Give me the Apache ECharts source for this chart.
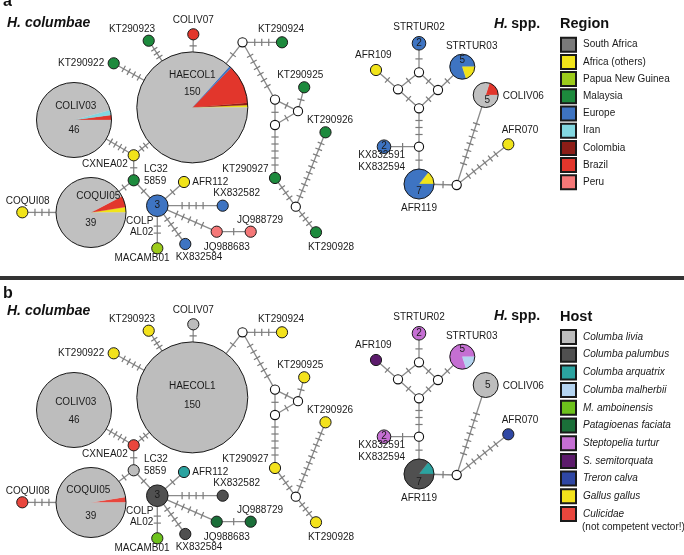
<!DOCTYPE html>
<html><head><meta charset="utf-8">
<script src="https://cdn.jsdelivr.net/npm/echarts@6/dist/echarts.min.js"></script>
<style>html,body{margin:0;padding:0;background:#fff}#c{width:684px;height:555px}</style>
</head><body><div id="c"></div>
<script>
// ---------------- DATA ----------------
const nodeNames = ['HAECOL1','COLIV03','COQUI05','COLIV07','KT290923','KT290922','CXNEA02','LC32\n5859','COLP\nAL02','AFR112',
  'KX832582','JQ988683','JQ988729','KX832584','MACAMB01','COQUI08','mv1','KT290924','mv2','mv3',
  'mv4','KT290925','KT290927','mv5','KT290928','KT290926','STRTUR02','STRTUR03','AFR109','mv6',
  'mv7','mv8','mv9','KX832591\nKX832594','mv10','AFR119','mv11','COLIV06','AFR070'];
// network layout (units of the diagram)
const nodeX = [192.3,74,91,193.3,148.7,113.7,133.7,133.7,157.3,184,
  222.7,216.7,250.7,185.3,157.3,22.3,242.5,282,275,298,
  275,304.2,275,295.8,316,325.5,419,462.3,376,419,
  398,438,419,384,419,419,456.7,485.7,508.3];
const nodeY = [107.4,120,212.5,34.3,40.7,63.3,155.3,180.3,205.7,182,
  205.7,231.7,231.7,244,248.3,212.3,42.3,42.3,99.6,111.2,
  125,87.3,178,206.7,232.3,132.3,43.3,66.7,70,72.3,
  89.3,90,108.3,146.7,146.7,184,185,95,144.3];
// composition (category, number of sequences) — region panel a
const regionMix = [
  [['Africa (others)',1],['Colombia',1],['Brazil',17],['Europe',1],['Other',130]],
  [['Brazil',1],['Iran',1],['Other',44]],
  [['Africa (others)',1],['Brazil',2],['Other',36]],
  [['Brazil',1]],[['Malaysia',1]],[['Malaysia',1]],[['Africa (others)',1]],[['Malaysia',1]],[['Europe',3]],[['Africa (others)',1]],
  [['Europe',1]],[['Peru',1]],[['Peru',1]],[['Europe',1]],[['Papua New Guinea',1]],[['Africa (others)',1]],[],[['Malaysia',1]],[],[],
  [],[['Malaysia',1]],[['Malaysia',1]],[],[['Malaysia',1]],[['Malaysia',1]],[['Europe',2]],[['Europe',4],['Africa (others)',1]],[['Africa (others)',1]],[],
  [],[],[],[['Europe',2]],[],[['Africa (others)',1],['Europe',6]],[],[['Brazil',1],['Other',4]],[['Africa (others)',1]]
];
// composition — host panel b
const hostMix = [
  [['Columba livia',150]],
  [['Columba livia',46]],
  [['Culicidae',1],['Columba livia',38]],
  [['Columba livia',1]],[['Gallus gallus',1]],[['Gallus gallus',1]],[['Culicidae',1]],[['Columba livia',1]],[['Columba palumbus',3]],[['Columba arquatrix',1]],
  [['Columba palumbus',1]],[['Patagioenas faciata',1]],[['Patagioenas faciata',1]],[['Columba palumbus',1]],[['M. amboinensis',1]],[['Culicidae',1]],[],[['Gallus gallus',1]],[],[],
  [],[['Gallus gallus',1]],[['Gallus gallus',1]],[],[['Gallus gallus',1]],[['Gallus gallus',1]],[['Steptopelia turtur',2]],[['Steptopelia turtur',4],['Columba malherbii',1]],[['S. semitorquata',1]],[],
  [],[],[],[['Steptopelia turtur',2]],[],[['Columba arquatrix',1],['Columba palumbus',6]],[],[['Columba livia',5]],[['Treron calva',1]]
];
// edges: from, to, number of mutational steps
const edgeFrom  = [3,4,5,0,16,16,18,19,19,18,20,22,23,23,0,1,6,7,7,8,8,8,11,8,8,2, 26,28,29,29,30,31,31,32,33,34,35,36,36];
const edgeTo    = [0,0,0,16,17,18,19,21,20,20,22,23,24,25,6,6,7,2,8,9,10,11,12,13,14,15, 29,30,30,31,32,32,27,34,34,35,36,37,38];
const edgeSteps = [1,3,4,1,3,6,1,1,1,1,5,3,3,10,2,4,1,1,1,1,4,5,1,4,2,3, 1,1,1,1,1,1,1,3,1,1,1,7,6];
const regionCategories = ['South Africa','Africa (others)','Papua New Guinea','Malaysia','Europe','Iran','Colombia','Brazil','Peru'];
const hostCategories = ['Columba livia','Columba palumbus','Columba arquatrix','Columba malherbii','M. amboinensis','Patagioenas faciata','Steptopelia turtur','S. semitorquata','Treron calva','Gallus gallus','Culicidae'];

// ---------------- STYLE ----------------
const FONT = '"Liberation Sans", Arial, Helvetica, sans-serif';
const colors = {
  'Other':'#c0c0c0','South Africa':'#7a7a7a','Africa (others)':'#f1e41a','Papua New Guinea':'#9ccb1b','Malaysia':'#1d8a3d',
  'Europe':'#3e74c2','Iran':'#83d7e0','Colombia':'#8d1d17','Brazil':'#e2362c','Peru':'#f57878',
  'Columba livia':'#bdbdbd','Columba palumbus':'#505050','Columba arquatrix':'#2ba3a0','Columba malherbii':'#b4d4f0',
  'M. amboinensis':'#6dc21c','Patagioenas faciata':'#1b6f39','Steptopelia turtur':'#c56fd3','S. semitorquata':'#5c1b6c',
  'Treron calva':'#2f47a4','Gallus gallus':'#f3e21c','Culicidae':'#e8463d'
};
const sizeStops = [[1,5.6],[2,6.8],[3,10.8],[5,12.5],[7,15],[39,35],[46,37.5],[150,55.5]];
function radiusOf(n){
  for (let k=0;k<sizeStops.length;k++){ if (n<=sizeStops[k][0]) {
    if (k===0) return sizeStops[0][1];
    const [n0,r0]=sizeStops[k-1],[n1,r1]=sizeStops[k];
    return r0+(r1-r0)*(n-n0)/(n1-n0);
  }}
  return sizeStops[sizeStops.length-1][1];
}
const MV_R = 4.6;
// outer label placement: [dx, dy, align]
const labelLayout = {
  'COLIV07':[0,-13.8,'center'],'KT290923':[-16.7,-11.6,'center'],'KT290922':[-9.5,0,'right'],'KT290924':[-1,-13,'center'],
  'KT290925':[-4,-12.3,'center'],'KT290926':[4.5,-12.3,'center'],'KT290927':[-6.5,-8.7,'right'],'KT290928':[15,15,'center'],
  'CXNEA02':[-6,8.7,'right'],'LC32\n5859':[10.3,-5.2,'left'],'AFR112':[8.3,0,'left'],'KX832582':[14,-12.4,'center'],
  'JQ988729':[9.3,-11.7,'center'],'JQ988683':[10,16,'center'],'KX832584':[13.7,13,'center'],'MACAMB01':[-15.3,10,'center'],
  'COLP\nAL02':[-4,21,'right'],'COQUI08':[5.4,-11.3,'center'],'STRTUR02':[0,-16,'center'],'STRTUR03':[9.4,-20,'center'],
  'AFR109':[-2.7,-15,'center'],'COLIV06':[17,1,'left'],'AFR070':[11.7,-13.6,'center'],'KX832591\nKX832594':[-2.3,14.2,'center'],
  'AFR119':[0,24.3,'center']
};
// inner labels: name offset / count offset per panel
const innerA = {'HAECOL1':{name:[0,-31.7],count:[0,-15.4]},'COLIV03':{name:[1.7,-14],count:[0,10.7]},'COQUI05':{name:[7.3,-15.8],count:[-0.3,10.8]},
  'STRTUR03':{count:[0,-6.7]},'AFR119':{count:[0,7.7]},'COLIV06':{count:[1.6,5.7]}};
const innerB = {'HAECOL1':{name:[0,-11],count:[0,8]},'COLIV03':{name:[1.7,-7.5],count:[0,10.5]},'COQUI05':{name:[-2.7,-12.5],count:[-0.3,13.5]},
  'STRTUR03':{count:[0,-7]},'AFR119':{count:[0,8.5]},'COLIV06':{count:[2,0]}};

function txt(x,y,s,align,extra){
  return Object.assign({type:'text',style:{x:x,y:y,text:s,align:align||'center',verticalAlign:'middle',fontSize:10,lineHeight:11.7,fontFamily:FONT,fill:'#1a1a1a'}},extra||{});
}

function makeNodeRenderer(mix, inner){
  return function(params, api){
    const i = api.value(2);
    const p = api.coord([api.value(0), api.value(1)]);
    const cx=p[0], cy=p[1];
    const parts = mix[i];
    const total = parts.reduce((s,q)=>s+q[1],0);
    const ch = [];
    const name = nodeNames[i];
    if (total===0){
      ch.push({type:'circle',shape:{cx,cy,r:MV_R},style:{fill:'#fff',stroke:'#111',lineWidth:1.1}});
      return {type:'group',children:ch};
    }
    const r = radiusOf(total);
    if (parts.length===1){
      ch.push({type:'circle',shape:{cx,cy,r},style:{fill:colors[parts[0][0]],stroke:'#1a1a1a',lineWidth:1}});
    } else {
      let a=0;
      parts.forEach(q=>{
        const b=a+q[1]/total*Math.PI*2;
        ch.push({type:'sector',shape:{cx,cy,r,r0:0,startAngle:-b,endAngle:-a,clockwise:true},style:{fill:colors[q[0]],stroke:colors[q[0]],lineWidth:0.3}});
        a=b;
      });
      ch.push({type:'circle',shape:{cx,cy,r},style:{fill:null,stroke:'#1a1a1a',lineWidth:1}});
    }
    const inn = inner[name]||{};
    if (inn.name) ch.push(txt(cx+inn.name[0],cy+inn.name[1],name,'center'));
    if (total>=2){ const o=inn.count||[0,0]; ch.push(txt(cx+o[0],cy+o[1],String(total),'center')); }
    const L = labelLayout[name];
    if (L) ch.push(txt(cx+L[0],cy+L[1],name,L[2]));
    return {type:'group',children:ch};
  };
}
function makeEdgeRenderer(mix){
  return function(params, api){
    const i=params.dataIndex;
    const a=edgeFrom[i], b=edgeTo[i], n=edgeSteps[i];
    const p=api.coord([nodeX[a],nodeY[a]]), q=api.coord([nodeX[b],nodeY[b]]);
    const ra = mix[a].length? radiusOf(mix[a].reduce((s,x)=>s+x[1],0)) : MV_R;
    const rb = mix[b].length? radiusOf(mix[b].reduce((s,x)=>s+x[1],0)) : MV_R;
    const dx=q[0]-p[0], dy=q[1]-p[1], Ltot=Math.hypot(dx,dy);
    const ux=dx/Ltot, uy=dy/Ltot, nx=-uy, ny=ux;
    const ch=[{type:'line',shape:{x1:p[0],y1:p[1],x2:q[0],y2:q[1]},style:{stroke:'#8a8a8a',lineWidth:1.3}}];
    const vis = Ltot-ra-rb, mid = ra+vis/2;
    const sp = Math.min(7, vis/(n+1));
    for (let k=0;k<n;k++){
      const t = mid+(k-(n-1)/2)*sp;
      const tx=p[0]+ux*t, ty=p[1]+uy*t;
      ch.push({type:'line',shape:{x1:tx+nx*3.6,y1:ty+ny*3.6,x2:tx-nx*3.6,y2:ty-ny*3.6},style:{stroke:'#7a7a7a',lineWidth:1.2}});
    }
    return {type:'group',children:ch};
  };
}

const nodeData = nodeNames.map((n,i)=>[nodeX[i],nodeY[i],i]);
const edgeData = edgeFrom.map((f,i)=>[nodeX[f],nodeY[f],i]);

const series = [
  {type:'custom',name:'edgesA',xAxisIndex:0,yAxisIndex:0,data:edgeData,renderItem:makeEdgeRenderer(regionMix),encode:{x:0,y:1},clip:false,z:1,silent:true},
  {type:'custom',name:'nodesA',xAxisIndex:0,yAxisIndex:0,data:nodeData,renderItem:makeNodeRenderer(regionMix,innerA),encode:{x:0,y:1},clip:false,z:2,silent:true},
  {type:'custom',name:'edgesB',xAxisIndex:1,yAxisIndex:1,data:edgeData,renderItem:makeEdgeRenderer(hostMix),encode:{x:0,y:1},clip:false,z:1,silent:true},
  {type:'custom',name:'nodesB',xAxisIndex:1,yAxisIndex:1,data:nodeData,renderItem:makeNodeRenderer(hostMix,innerB),encode:{x:0,y:1},clip:false,z:2,silent:true}
];
regionCategories.forEach(c=>series.push({type:'scatter',name:c,data:[],xAxisIndex:0,yAxisIndex:0,itemStyle:{color:colors[c],opacity:1,borderColor:'#1a1a1a',borderWidth:1}}));
hostCategories.forEach(c=>series.push({type:'scatter',name:c,data:[],xAxisIndex:1,yAxisIndex:1,itemStyle:{color:colors[c],opacity:1,borderColor:'#1a1a1a',borderWidth:1}}));

const legendBase = {orient:'vertical',left:560,itemWidth:15,itemHeight:14,padding:0,selectedMode:false,icon:'rect',
  itemStyle:{opacity:1},
  textStyle:{fontSize:10,color:'#1a1a1a',fontFamily:FONT,padding:[0,0,0,2]}};

const option = {
  animation:false,
  backgroundColor:'#fff',
  grid:[{left:0,top:0,width:684,height:277},{left:0,top:290,width:684,height:265}],
  xAxis:[{type:'value',min:0,max:684,show:false,gridIndex:0},{type:'value',min:0,max:684,show:false,gridIndex:1}],
  yAxis:[{type:'value',min:0,max:277,inverse:true,show:false,gridIndex:0},{type:'value',min:0,max:265,inverse:true,show:false,gridIndex:1}],
  legend:[
    Object.assign({},legendBase,{data:regionCategories,top:36.7,itemGap:1.2}),
    Object.assign({},legendBase,{data:hostCategories,top:329,itemGap:1.7,textStyle:Object.assign({},legendBase.textStyle,{fontStyle:'italic'})})
  ],
  graphic:[
    {type:'rect',shape:{x:0,y:276,width:684,height:4},style:{fill:'#333'}},
    {type:'text',style:{x:3,y:2,text:'a',fontSize:16,fontWeight:'bold',fontFamily:FONT,fill:'#111',verticalAlign:'middle'}},
    {type:'text',style:{x:3,y:294,text:'b',fontSize:16,fontWeight:'bold',fontFamily:FONT,fill:'#111',verticalAlign:'middle'}},
    {type:'text',style:{x:7,y:23.5,text:'H. columbae',fontSize:14,fontWeight:'bold',fontStyle:'italic',fontFamily:FONT,fill:'#111',verticalAlign:'middle'}},
    {type:'text',style:{x:7,y:311.5,text:'H. columbae',fontSize:14,fontWeight:'bold',fontStyle:'italic',fontFamily:FONT,fill:'#111',verticalAlign:'middle'}},
    {type:'text',style:{x:494,y:23.8,text:'{i|H.} {n|spp.}',fontFamily:FONT,fill:'#111',verticalAlign:'middle',
      rich:{i:{fontSize:14,fontWeight:'bold',fontStyle:'italic',fontFamily:FONT},n:{fontSize:14,fontWeight:'bold',fontFamily:FONT}}}},
    {type:'text',style:{x:494,y:316.5,text:'{i|H.} {n|spp.}',fontFamily:FONT,fill:'#111',verticalAlign:'middle',
      rich:{i:{fontSize:14,fontWeight:'bold',fontStyle:'italic',fontFamily:FONT},n:{fontSize:14,fontWeight:'bold',fontFamily:FONT}}}},
    {type:'text',style:{x:560,y:23.8,text:'Region',fontSize:14.5,fontWeight:'bold',fontFamily:FONT,fill:'#111',verticalAlign:'middle'}},
    {type:'text',style:{x:560,y:316.5,text:'Host',fontSize:14.5,fontWeight:'bold',fontFamily:FONT,fill:'#111',verticalAlign:'middle'}},
    {type:'text',style:{x:582,y:527.7,text:'(not competent vector!)',fontSize:10,fontFamily:FONT,fill:'#1a1a1a',verticalAlign:'middle'}}
  ],
  series:series
};
const chart = echarts.init(document.getElementById('c'),null,{renderer:'canvas'});
chart.setOption(option);
</script></body></html>
